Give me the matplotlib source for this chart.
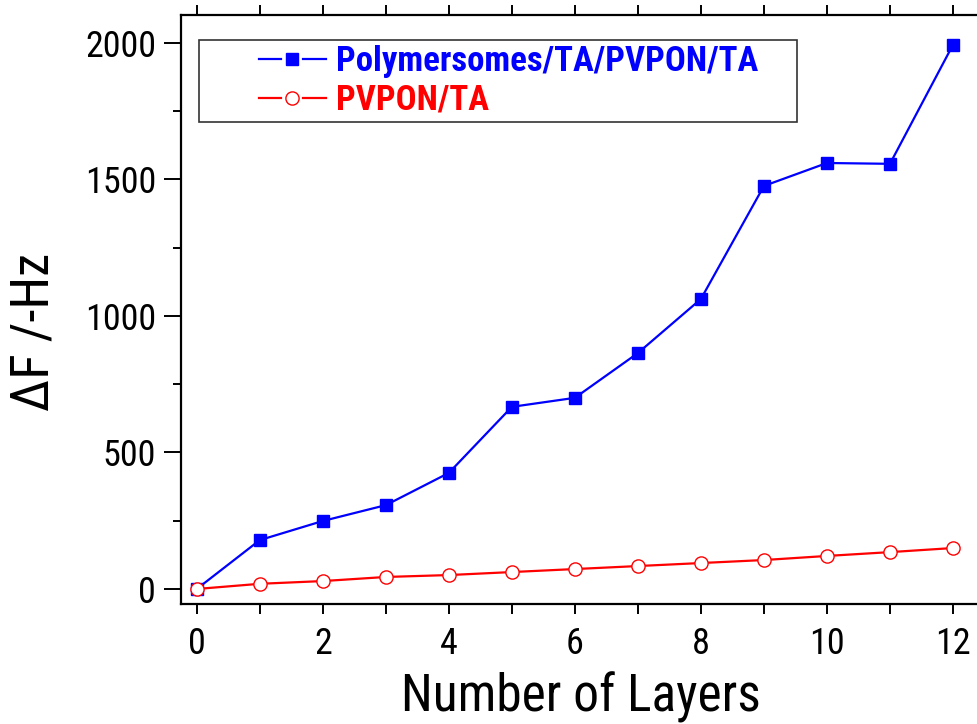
import matplotlib
matplotlib.use("Agg")
import matplotlib.pyplot as plt
from matplotlib.ticker import MultipleLocator
from matplotlib.legend_handler import HandlerBase
from matplotlib.lines import Line2D

layers = list(range(13))
poly_ta = [0, 179, 249, 307, 425, 667, 700, 864, 1062, 1476, 1560, 1557, 1993]
pvpon_ta = [0, 19, 29, 44, 51, 62, 73, 84, 95, 106, 121, 135, 150]

xticks = [0, 2, 4, 6, 8, 10, 12]
yticks = [0, 500, 1000, 1500, 2000]

plt.rcParams['font.family'] = ['Roboto Condensed', 'DejaVu Sans']


class GapHandler(HandlerBase):
    """Line - marker - line with small gaps around the marker."""
    def create_artists(self, legend, orig_handle, xdescent, ydescent,
                       width, height, fontsize, trans):
        y = height / 2 - ydescent
        x0 = -xdescent
        seg = width * 0.55
        start = x0 + width - seg
        mid = start + seg * 0.5
        gap = seg * 0.165
        color = orig_handle.get_color()
        lw = orig_handle.get_linewidth()
        l1 = Line2D([start, mid - gap], [y, y], color=color, lw=lw, transform=trans)
        l2 = Line2D([mid + gap, start + seg], [y, y], color=color, lw=lw, transform=trans)
        m = Line2D([mid], [y], ls='none', marker=orig_handle.get_marker(),
                   ms=orig_handle.get_markersize(),
                   mfc=orig_handle.get_markerfacecolor(),
                   mec=orig_handle.get_markeredgecolor(),
                   mew=orig_handle.get_markeredgewidth(), transform=trans)
        return [l1, l2, m]


fig = plt.figure(figsize=(9.77, 7.24), dpi=100)
ax = fig.add_axes([181/977, 1-604/724, (984.5-181)/977, (604-15)/724])

h1, = ax.plot(layers, poly_ta, color='#0000ff', lw=1.6, marker='s', ms=8,
              mfc='#0000ff', mec='#0000ff', label='Polymersomes/TA/PVPON/TA')
h2, = ax.plot(layers, pvpon_ta, color='#ff0000', lw=1.6, marker='o', ms=9.5,
              mfc='white', mec='#ff0000', mew=1.0, label='PVPON/TA')

ax.set_xlim(-0.25, 12.5)
ax.set_ylim(-55, 2102)
ax.set_xticks(xticks)
ax.set_yticks(yticks)
ax.xaxis.set_minor_locator(MultipleLocator(1))
ax.yaxis.set_minor_locator(MultipleLocator(250))

for s in ax.spines.values():
    s.set_linewidth(1.6)
ax.spines['right'].set_visible(False)

ax.tick_params(axis='both', which='major', direction='out', width=1.4,
               labelsize=26)
ax.tick_params(axis='y', which='major', length=12, pad=6)
ax.tick_params(axis='y', which='minor', length=6, width=1.4, direction='out')
ax.tick_params(axis='x', which='major', length=7, pad=9)
ax.tick_params(axis='x', which='minor', length=7, width=1.4, direction='out')
ax.tick_params(axis='x', which='both', top=True)

ax.set_xlabel('Number of Layers', fontsize=37)
ax.set_ylabel('ΔF /-Hz', fontsize=38)
ax.xaxis.set_label_coords((580.5-181)/803.5, (604-672)/589)
ax.yaxis.set_label_coords((60-181)/803.5, (604-332)/589)

leg = ax.legend(handles=[h1, h2],
                handler_map={Line2D: GapHandler()},
                loc='upper left', mode='expand',
                bbox_to_anchor=((199-181)/803.5, 0.7, (797-199)/803.5, (604-40)/589 - 0.7),
                frameon=True, fancybox=False, edgecolor='black',
                handlelength=3.5, handletextpad=0.29, borderpad=0.15,
                labelspacing=0.16, borderaxespad=0,
                prop={'weight': 'bold', 'size': 25})
leg.get_frame().set_linewidth(1.2)
for txt, c in zip(leg.get_texts(), ['#0000ff', '#ff0000']):
    txt.set_color(c)

fig.savefig('out.png', dpi=100)
